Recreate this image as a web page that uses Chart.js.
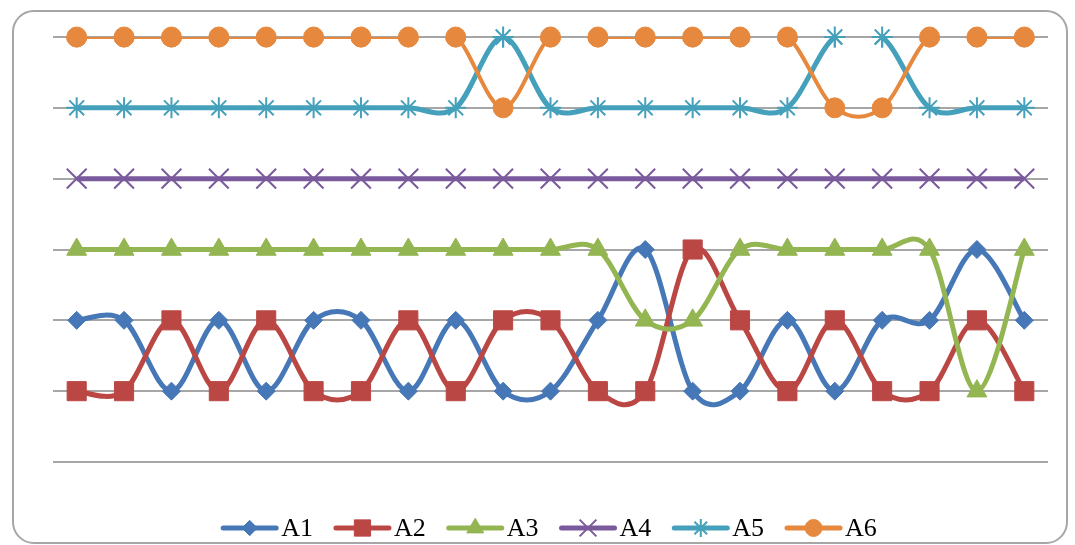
<!DOCTYPE html>
<html>
<head>
<meta charset="utf-8">
<script src="https://cdn.jsdelivr.net/npm/chart.js@4.4.1/dist/chart.umd.min.js"></script>
<style>
  html, body { margin: 0; padding: 0; background: #fff; overflow: hidden; }
  #wrap { position: relative; width: 1075px; height: 545px; }
  #frame {
    position: absolute; left: 12px; top: 10px; width: 1056px; height: 534px;
    box-sizing: border-box; border: 2px solid #a6a6a6; border-radius: 22px;
  }
  #chart { position: absolute; left: 0; top: 0; }
</style>
</head>
<body>
<div id="wrap">
  <div id="frame"></div>
  <canvas id="chart" width="1075" height="545"></canvas>
</div>
<script>
const categories = ["1","2","3","4","5","6","7","8","9","10","11","12","13","14","15","16","17","18","19","20","21"];
const seriesNames = ["A1", "A2", "A3", "A4", "A5", "A6"];
const a1 = [2, 2, 1, 2, 1, 2, 2, 1, 2, 1, 1, 2, 3, 1, 1, 2, 1, 2, 2, 3, 2];
const a2 = [1, 1, 2, 1, 2, 1, 1, 2, 1, 2, 2, 1, 1, 3, 2, 1, 2, 1, 1, 2, 1];
const a3 = [3, 3, 3, 3, 3, 3, 3, 3, 3, 3, 3, 3, 2, 2, 3, 3, 3, 3, 3, 1, 3];
const a4 = [4, 4, 4, 4, 4, 4, 4, 4, 4, 4, 4, 4, 4, 4, 4, 4, 4, 4, 4, 4, 4];
const a5 = [5, 5, 5, 5, 5, 5, 5, 5, 5, 6, 5, 5, 5, 5, 5, 5, 6, 6, 5, 5, 5];
const a6 = [6, 6, 6, 6, 6, 6, 6, 6, 6, 5, 6, 6, 6, 6, 6, 6, 5, 5, 6, 6, 6];
const yTicks = [0, 1, 2, 3, 4, 5, 6];

const colors = ["#4677b6", "#bb4744", "#93b552", "#7a5a9c", "#45a0bb", "#e6883d"];
const styles = [
  { pointStyle: "rectRot", r: 9, bw: 1, lw: 5 },
  { pointStyle: "rect", r: 13.5, bw: 1, lw: 5 },
  { pointStyle: "triangle", r: 11.5, bw: 1, lw: 5 },
  { pointStyle: "crossRot", r: 14, bw: 2, lw: 5 },
  { pointStyle: "star", r: 10.5, bw: 2, lw: 5 },
  { pointStyle: "circle", r: 10, bw: 1, lw: 4 },
];

const allData = [a1, a2, a3, a4, a5, a6];
const datasets = allData.map((d, i) => ({
  label: seriesNames[i],
  data: d,
  borderColor: colors[i],
  backgroundColor: colors[i],
  borderWidth: styles[i].lw,
  tension: 0.4,
  pointStyle: styles[i].pointStyle,
  pointRadius: styles[i].r,
  pointBorderWidth: styles[i].bw,
  pointBackgroundColor: colors[i],
  pointBorderColor: colors[i],
  // lines get cut at the top of the plot, like the original
  clip: { left: false, top: 0, right: false, bottom: false },
  order: 6 - i,
}));

// office-style smoothing: control handles = (next - prev) / 6
const officeSmooth = {
  id: "officeSmooth",
  beforeDatasetsDraw(chart) {
    chart.getSortedVisibleDatasetMetas().forEach(meta => {
      const line = meta.dataset;
      if (!line) return;
      line.updateControlPoints(chart.chartArea, "x");
      const pts = meta.data;
      pts.forEach((p, i) => {
        const prev = pts[i - 1] || p;
        const next = pts[i + 1] || p;
        const dx = (next.x - prev.x) / 6;
        const dy = (next.y - prev.y) / 6;
        p.cp1x = p.x - dx; p.cp1y = p.y - dy;
        p.cp2x = p.x + dx; p.cp2y = p.y + dy;
      });
      delete line._path;
    });
  },
  // markers cut by the top clip are drawn again in full
  afterDatasetsDraw(chart) {
    const area = { left: 0, top: 0, right: chart.width, bottom: chart.height };
    const metas = chart.getSortedVisibleDatasetMetas();
    for (let k = metas.length - 1; k >= 0; k--) {
      metas[k].data.forEach(p => {
        if (p.y - p.options.radius < chart.chartArea.top) p.draw(chart.ctx, area);
      });
    }
  }
};

// legend: line + marker + label
const lineLegend = {
  id: "lineLegend",
  afterDraw(chart) {
    const o = chart.options.plugins.lineLegend;
    const ctx = chart.ctx;
    ctx.save();
    ctx.font = o.font;
    ctx.textBaseline = "middle";
    const items = chart.data.datasets.map(ds => ({ ds, w: o.lineLen + o.gap + ctx.measureText(ds.label).width }));
    const total = items.reduce((s, it) => s + it.w, 0) + o.spacing * (items.length - 1);
    let x = o.centerX - total / 2;
    const y = o.y;
    items.forEach(({ ds, w }) => {
      ctx.strokeStyle = ds.borderColor;
      ctx.lineWidth = 5;
      ctx.lineCap = "round";
      ctx.beginPath();
      ctx.moveTo(x + 2, y);
      ctx.lineTo(x + o.lineLen - 2, y);
      ctx.stroke();
      ctx.fillStyle = ds.pointBackgroundColor;
      ctx.strokeStyle = ds.pointBorderColor;
      ctx.lineWidth = ds.pointBorderWidth;
      ctx.lineCap = "butt";
      Chart.helpers.drawPoint(ctx, {
        pointStyle: ds.pointStyle, radius: ds.pointRadius * 0.85, rotation: 0, borderWidth: ds.pointBorderWidth
      }, x + o.lineLen / 2, y);
      ctx.fillStyle = "#000";
      ctx.fillText(ds.label, x + o.lineLen + o.gap, y + 1);
      x += w + o.spacing;
    });
    ctx.restore();
  }
};

new Chart(document.getElementById("chart"), {
  type: "line",
  data: { labels: categories, datasets },
  plugins: [officeSmooth, lineLegend],
  options: {
    responsive: false,
    animation: false,
    layout: { padding: { left: 53, right: 27, top: 37, bottom: 83 } },
    plugins: {
      legend: { display: false },
      tooltip: { enabled: false },
      lineLegend: { font: "26px 'Liberation Serif', 'Times New Roman', serif", lineLen: 57, gap: 3, spacing: 21, centerX: 549, y: 528 },
    },
    scales: {
      x: {
        display: false,
        offset: true,
      },
      y: {
        min: yTicks[0],
        max: yTicks[yTicks.length - 1],
        afterBuildTicks: axis => { axis.ticks = yTicks.map(v => ({ value: v })); },
        ticks: { display: false },
        border: { display: false },
        grid: { color: "#a6a6a6", lineWidth: 2, drawTicks: false },
      },
    },
  },
});
</script>
</body>
</html>
